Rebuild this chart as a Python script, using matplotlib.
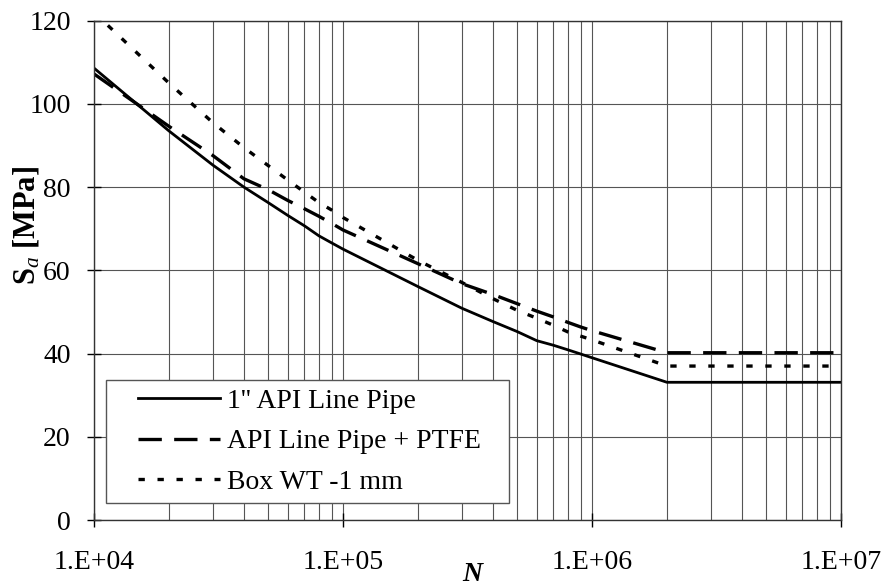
import numpy as np
import matplotlib
matplotlib.use('Agg')
import matplotlib.pyplot as plt
from matplotlib.ticker import LogLocator, NullFormatter
from matplotlib.legend_handler import HandlerLine2D

plt.rcParams['font.family'] = ['Liberation Serif', 'DejaVu Serif']
plt.rcParams['mathtext.fontset'] = 'custom'
plt.rcParams['mathtext.rm'] = 'Liberation Serif'
plt.rcParams['mathtext.it'] = 'Liberation Serif:italic'
plt.rcParams['mathtext.bf'] = 'Liberation Serif:bold'

# cycles to failure
N = [1e4, 2e4, 3e4, 4e4, 5e4, 6e4, 7e4, 8e4, 9e4, 1e5,
     2e5, 3e5, 4e5, 5e5, 6e5, 7e5, 8e5, 9e5, 1e6, 2e6, 1e7]

# stress amplitude [MPa]
api_pipe = [108.6, 93.5, 85.3, 80.0, 76.3, 73.2, 70.7, 68.3, 66.6, 65.1,
            56.1, 50.9, 47.7, 45.3, 43.1, 42.0, 40.9, 39.9, 39.0, 33.1, 33.1]
api_ptfe = [107.2, 94.6, 87.6, 82.0, 79.4, 76.8, 74.8, 73.0, 71.3, 69.7,
            61.6, 56.8, 54.2, 52.0, 50.2, 48.8, 47.5, 46.4, 45.5, 40.2, 40.2]
box_wt = [122.0, 105.0, 95.5, 89.5, 85.2, 81.7, 78.8, 76.3, 74.5, 72.7,
          62.4, 57.1, 53.2, 50.4, 48.5, 46.8, 45.2, 44.2, 43.3, 37.0, 37.0]

labels = ["1'' API Line Pipe", 'API Line Pipe + PTFE', 'Box WT -1 mm']
xtick_vals = [1e4, 1e5, 1e6, 1e7]
xtick_labels = ['1.E+04', '1.E+05', '1.E+06', '1.E+07']
ytick_vals = [0, 20, 40, 60, 80, 100, 120]

fs = 20

fig = plt.figure(figsize=(8.83, 5.86), dpi=100)
ax = fig.add_axes([0.1065, 0.1126, 0.8459, 0.8521])

ax.plot(N, api_pipe, color='black', lw=2.0, label=labels[0])
ax.plot(N, api_ptfe, color='black', lw=2.4, dashes=(7, 3.7), label=labels[1])
ax.plot(N, box_wt, color='black', lw=2.4, dashes=(1.9, 3.8), label=labels[2])

ax.set_xscale('log')
ax.set_xlim(1e4, 1e7)
ax.set_ylim(0, 120)
ax.set_xticks(xtick_vals)
ax.set_xticklabels(xtick_labels)
ax.xaxis.set_minor_locator(LogLocator(base=10, subs=np.arange(2, 10)))
ax.xaxis.set_minor_formatter(NullFormatter())
ax.set_yticks(ytick_vals)

ax.grid(True, which='both', axis='x', color='#555555', lw=0.8)
ax.grid(True, which='major', axis='y', color='#555555', lw=0.8)
ax.set_axisbelow(True)

ax.tick_params(axis='both', which='major', direction='inout', length=9.4,
               width=1, labelsize=fs)
ax.tick_params(axis='y', which='major', pad=12)
ax.tick_params(axis='x', which='major', pad=17)
ax.tick_params(axis='x', which='minor', length=0)
for s in ax.spines.values():
    s.set_color('#333333')
    s.set_linewidth(1)

ax.set_ylabel(r'$\mathbf{S}_{\mathit{a}}$ [MPa]', fontsize=22, fontweight='bold',
              va='center')
ax.yaxis.set_label_coords(-0.091, 0.589)
ax.set_xlabel('N', fontsize=fs, fontweight='bold', fontstyle='italic', va='center')
ax.xaxis.set_label_coords(0.506, -0.11)

# legend box is wider than its text, lines are indented
leg = ax.legend(loc='lower left', bbox_to_anchor=(0.016, 0.034, 0.5395, 0.3),
                mode='expand', borderaxespad=0,
                fontsize=fs, handlelength=3.8, handletextpad=0.24, labelspacing=0.54,
                fancybox=False, framealpha=1, edgecolor='#555555', borderpad=0.3,
                handler_map={plt.Line2D: HandlerLine2D(xpad=0.85)})
leg.get_frame().set_linewidth(1)

fig.savefig('out.png', dpi=100)
